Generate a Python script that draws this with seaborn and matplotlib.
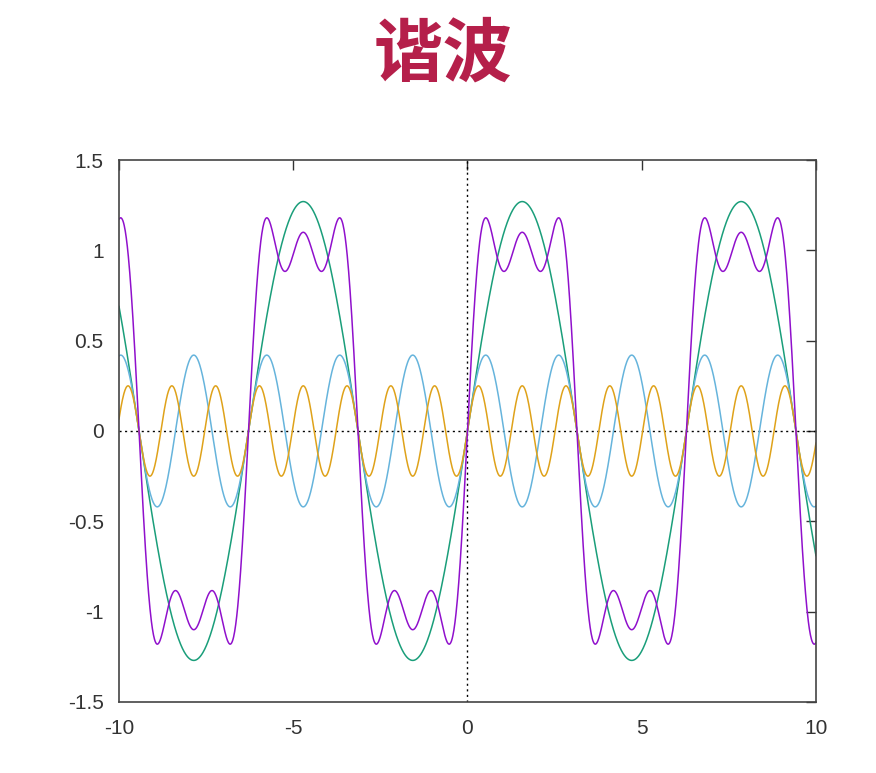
import matplotlib
matplotlib.use("Agg")
import matplotlib.pyplot as plt
import seaborn as sns
import pandas as pd
import numpy as np

# harmonic parameters (peak heights of each curve)
harmonic_order = [1, 3, 5]
harmonic_amp = [1.27, 0.42, 0.25]
harmonic_color = ['#1a9e7a', '#66b4dc', '#dfa21a']
sum_color = '#9010cc'

x_range = [-10, 10]
y_range = [-1.5, 1.5]
x_ticks = [-10, -5, 0, 5, 10]
y_ticks = [-1.5, -1, -0.5, 0, 0.5, 1, 1.5]
y_tick_labels = ['-1.5', '-1', '-0.5', '0', '0.5', '1', '1.5']

sns.set_theme(style="white")
plt.rcParams['font.family'] = ['Noto Sans CJK SC', 'DejaVu Sans']

x = np.linspace(x_range[0], x_range[1], 2001)
frames = []
total = np.zeros_like(x)
for n, a in zip(harmonic_order, harmonic_amp):
    y = a * np.sin(n * x)
    total += y
    frames.append(pd.DataFrame({'x': x, 'y': y, 'curve': f'h{n}'}))
frames.insert(0, pd.DataFrame({'x': x, 'y': total, 'curve': 'sum'}))
df = pd.concat(frames, ignore_index=True)

palette = {'sum': sum_color}
for n, c in zip(harmonic_order, harmonic_color):
    palette[f'h{n}'] = c

fig = plt.figure(figsize=(8.76, 7.73), dpi=100)
ax = fig.add_axes([0.1358, 0.0919, 0.7957, 0.7011])

ax.axhline(0, color='black', linestyle=(0, (1.5, 2.5)), linewidth=1.0, zorder=1)
ax.axvline(0, color='black', linestyle=(0, (1.5, 2.5)), linewidth=1.0, zorder=1)

sns.lineplot(data=df, x='x', y='y', hue='curve', palette=palette,
             hue_order=['h1', 'h3', 'h5', 'sum'], linewidth=1.1,
             legend=False, ax=ax, estimator=None, sort=False)

ax.set_xlim(x_range)
ax.set_ylim(y_range)
ax.set_xticks(x_ticks)
ax.set_xticklabels([str(t) for t in x_ticks], family='Liberation Sans')
ax.set_yticks(y_ticks)
ax.set_yticklabels(y_tick_labels, family='Liberation Sans')
ax.tick_params(direction='in', length=7, width=1, labelsize=15, colors='#333333',
               top=True, right=True)
ax.tick_params(axis='x', pad=12)
ax.tick_params(axis='y', pad=11)
for s in ax.spines.values():
    s.set_color('#444444')
    s.set_linewidth(1.2)
ax.set_xlabel('')
ax.set_ylabel('')

fig.text(0.506, 0.928, '谐波', ha='center', va='center', fontsize=50,
         fontweight='bold', color='#b51f4a', family=['Noto Sans CJK SC', 'DejaVu Sans'])

fig.savefig('out.png', dpi=100, facecolor='white')
